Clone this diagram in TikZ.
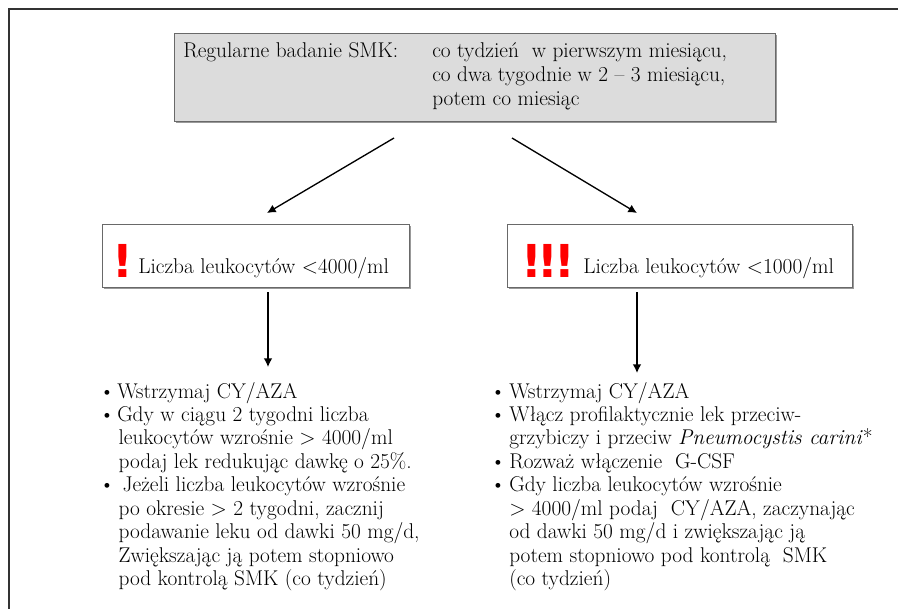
\documentclass[tikz,border=0pt]{standalone}
\usepackage{fontspec}
\usepackage{tikz}
\usetikzlibrary{arrows.meta,shadows}
\newfontfamily\bangfont{DejaVu Sans}
\definecolor{boxgray}{RGB}{220,220,220}
\definecolor{edgegray}{RGB}{105,105,105}

\begin{document}
\begin{tikzpicture}[x=0.75pt,y=-0.75pt,
    box/.style={draw=edgegray, line width=0.9pt, anchor=north west, inner sep=0pt, fill=white,
      drop shadow={shadow xshift=1.1pt, shadow yshift=-1.1pt, fill=gray!80, opacity=1}},
    txt/.style={anchor=base west, inner sep=0pt, font=\fontsize{16}{17.6}\selectfont},
    bang/.style={anchor=base west, inner sep=0pt, text=red, font=\bangfont\bfseries\fontsize{34}{34}\selectfont},
    arr/.style={-{Latex[length=6.5pt,width=6.5pt]}, line width=1pt}]
  \useasboundingbox (0,0) rectangle (898,609);
  \draw[line width=1.1pt, black!80] (9,609) -- (9,9) -- (898,9);

  \node[box, fill=boxgray, minimum width=450.75pt, minimum height=66pt] (smk) at (174,33) {};
  \node[txt, font=\fontsize{16}{18}\selectfont] (smktxt) at (183,58)
    {\makebox[186.75pt][l]{Regularne badanie SMK:}\begin{tabular}[t]{@{}l@{}}
      co tydzień\ \ w pierwszym miesiącu,\\
      co dwa tygodnie w 2 -- 3 miesiącu,\\
      potem co miesiąc
    \end{tabular}};

  \node[box, minimum width=230.25pt, minimum height=47.25pt] (low) at (102,224) {};
  \node[bang] (lowbang) at (112,277) {!};
  \node[txt] (lowtxt) at (138,273) {Liczba leukocytów <4000/ml};

  \node[box, minimum width=258.75pt, minimum height=47.25pt] (vlow) at (507,224) {};
  \node[bang] (vlowbang) at (521,277) {!\kern-3pt!\kern-3pt!};
  \node[txt] (vlowtxt) at (583,273) {Liczba leukocytów <1000/ml};

  \coordinate (a1) at (394,138);
  \coordinate (a2) at (267,213);
  \coordinate (a3) at (512,138);
  \coordinate (a4) at (637,213);
  \coordinate (b1) at (268,292);
  \coordinate (b2) at (268,367);
  \coordinate (c1) at (637,292);
  \coordinate (c2) at (637,373);
  \draw[arr] (a1) -- (a2);
  \draw[arr] (a3) -- (a4);
  \draw[arr] (b1) -- (b2);
  \draw[arr] (c1) -- (c2);

  \node[txt] (lowlist) at (99,398) {\begin{tabular}[t]{@{}p{13.5pt}@{}l@{}}
    \textbullet & Wstrzymaj CY/AZA\\
    \textbullet & Gdy w ciągu 2 tygodni liczba\\
     & \hspace{1pt}leukocytów wzrośnie > 4000/ml\\
     & \hspace{1pt}podaj lek redukując dawkę o 25\%.\\
    \textbullet & \hspace{4pt}Jeżeli liczba leukocytów wzrośnie\\
     & \hspace{1pt}po okresie > 2 tygodni, zacznij\\
     & \hspace{1pt}podawanie leku od dawki 50 mg/d,\\
     & \hspace{1pt}Zwiększając ją potem stopniowo\\
     & \hspace{1pt}pod kontrolą SMK (co tydzień)
  \end{tabular}};

  \node[txt] (vlowlist) at (490,398) {\begin{tabular}[t]{@{}p{14.25pt}@{}l@{}}
    \textbullet & Wstrzymaj CY/AZA\\
    \textbullet & Włącz profilaktycznie lek przeciw-\\
     & grzybiczy i przeciw \textit{Pneumocystis carini}*\\
    \textbullet & Rozważ włączenie\ \ G-CSF\\
    \textbullet & Gdy liczba leukocytów wzrośnie\\
     & > 4000/ml podaj\ \ CY/AZA, zaczynając\\
     & od dawki 50 mg/d i zwiększając ją\\
     & potem stopniowo pod kontrolą\ \ SMK\\
     & (co tydzień)
  \end{tabular}};
\end{tikzpicture}
\end{document}
